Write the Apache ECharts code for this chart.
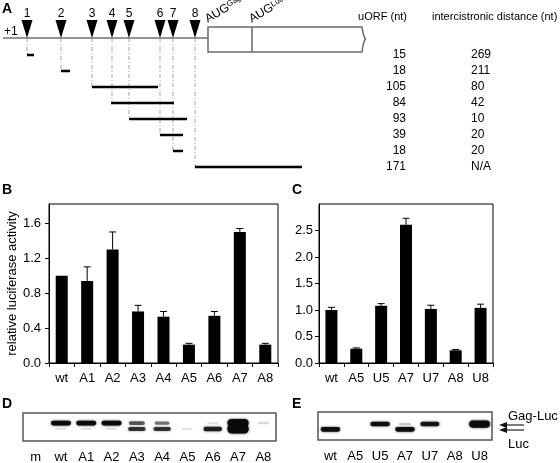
<!DOCTYPE html>
<html><head><meta charset="utf-8">
<script src="https://cdn.jsdelivr.net/npm/echarts@6/dist/echarts.min.js"></script>
<style>html,body{margin:0;padding:0;background:#fff}#c{width:560px;height:463px}</style>
</head><body><div id="c"></div>
<script>
// ---------- Panel A: leader schematic (schematic units along the leader) ----------
const augLabels = ['1','2','3','4','5','6','7','8'];
const augPos = [24, 58, 89, 109, 126, 157, 170, 192];
const orfRows = ['uORF1','uORF2','uORF3','uORF4','uORF5','uORF6','uORF7','uORF8'];
const orfStart = [24, 58, 89, 108, 126, 157, 170, 192];
const orfEnd = [31, 67, 155, 171, 184, 180, 180, 299];
const orfLength = ['15','18','105','84','93','39','18','171'];
const orfDistance = ['269','211','80','42','10','20','20','N/A'];
const gagStart = 205;
const lucStart = 249;
const schematicEnd = 359;

// ---------- Panel B ----------
const catsB = ['wt','A1','A2','A3','A4','A5','A6','A7','A8'];
const valsB = [1.00, 0.94, 1.30, 0.59, 0.53, 0.21, 0.54, 1.50, 0.21];
const errB  = [0.00, 0.16, 0.20, 0.07, 0.06, 0.015, 0.05, 0.04, 0.015];
const ticksB = [0, 0.4, 0.8, 1.2, 1.6];

// ---------- Panel C ----------
const catsC = ['wt','A5','U5','A7','U7','A8','U8'];
const valsC = [1.00, 0.27, 1.08, 2.61, 1.02, 0.24, 1.04];
const errC  = [0.05, 0.015, 0.04, 0.12, 0.07, 0.015, 0.07];
const ticksC = [0, 0.5, 1.0, 1.5, 2.0, 2.5];

// ---------- Panel D / E: blot band intensities ----------
const lanesD = ['m','wt','A1','A2','A3','A4','A5','A6','A7','A8'];
const gagLucD = [0, 1.0, 1.0, 1.0, 0.6, 0.5, 0, 0.1, 1.6, 0.15];
const lucD    = [0, 0.1, 0.1, 0.1, 0.75, 0.75, 0.1, 0.85, 1.7, 0];
const lanesE = ['wt','A5','U5','A7','U7','A8','U8'];
const gagLucE = [0, 0, 0.95, 0.2, 0.9, 0, 1.4];
const lucE    = [0.95, 0, 0, 0.95, 0, 0, 0];
const migrationD = [0.36, 0.57];
const migrationE = [0.43, 0.62];

const FONT = 'Liberation Sans, Arial, Helvetica, sans-serif';
const chart = echarts.init(document.getElementById('c'), null, {renderer: 'canvas'});

function renderLeader(params, api) {
  const cs = params.coordSys;
  const lineY = cs.y - 9;
  const x0 = api.coord([0, 0])[0];
  const xg = api.coord([gagStart, 0])[0];
  const xl = api.coord([lucStart, 0])[0];
  const xe = api.coord([schematicEnd, 0])[0];
  const top = lineY - 11, bot = lineY + 14, mid = lineY + 1;
  const path = `M${xg} ${top} L${xe} ${top} C${xe+1} ${top+6} ${xe+1} ${mid-3} ${xe+3.5} ${mid} C${xe+1} ${mid+3} ${xe+1} ${bot-6} ${xe} ${bot} L${xg} ${bot} Z`;
  const rich = {a: {fontSize: 12, fontFamily: FONT, fill: '#000'}, b: {fontSize: 8, fontFamily: FONT, verticalAlign: 'top', lineHeight: 9, fill: '#000'}};
  return {type: 'group', children: [
    {type: 'line', shape: {x1: x0, y1: lineY, x2: xg, y2: lineY}, style: {stroke: '#707070', lineWidth: 1.5}},
    {type: 'path', shape: {pathData: path}, style: {fill: '#fff', stroke: '#6a6a6a', lineWidth: 1.5}},
    {type: 'line', shape: {x1: xl, y1: top, x2: xl, y2: bot}, style: {stroke: '#6a6a6a', lineWidth: 1.5}},
    {type: 'text', x: x0 + 1, y: lineY - 6, style: {text: '+1', font: '12px ' + FONT, fill: '#000', align: 'left', verticalAlign: 'middle'}},
    {type: 'text', x: xg + 1, y: top - 2, rotation: 30 * Math.PI / 180, style: {text: '{a|AUG}{b|Gag}', rich: rich, align: 'left', verticalAlign: 'bottom'}},
    {type: 'text', x: xl + 1, y: top - 2, rotation: 30 * Math.PI / 180, style: {text: '{a|AUG}{b|Luc}', rich: rich, align: 'left', verticalAlign: 'bottom'}},
    {type: 'text', x: api.coord([404, 0])[0], y: 17, style: {text: 'uORF (nt)', font: '11px ' + FONT, fill: '#000', align: 'right', verticalAlign: 'middle'}},
    {type: 'text', x: api.coord([429, 0])[0], y: 17, style: {text: 'intercistronic distance (nt)', font: '11px ' + FONT, fill: '#000', align: 'left', verticalAlign: 'middle'}}
  ]};
}

function renderAug(params, api) {
  const cs = params.coordSys;
  const lineY = cs.y - 9;
  const p = api.coord([api.value(0), api.value(1)]);
  const x = p[0];
  return {type: 'group', children: [
    {type: 'line', z2: 1, shape: {x1: x, y1: lineY, x2: x, y2: p[1]}, style: {stroke: '#8a8a8a', lineWidth: 0.8, lineDash: [4, 2, 1, 2]}},
    {type: 'polygon', z2: 5, shape: {points: [[x - 5.5, lineY - 18], [x + 5.5, lineY - 18], [x, lineY]]}, style: {fill: '#000'}},
    {type: 'text', z2: 5, x: x, y: lineY - 24, style: {text: augLabels[params.dataIndex], font: '12px ' + FONT, fill: '#000', align: 'center', verticalAlign: 'middle'}}
  ]};
}

function renderOrf(params, api) {
  const i = api.value(1);
  const a = api.coord([api.value(0), i]);
  const b = api.coord([api.value(2), i]);
  return {type: 'group', children: [
    {type: 'line', shape: {x1: a[0], y1: a[1], x2: b[0], y2: b[1]}, style: {stroke: '#000', lineWidth: 2.5}},
    {type: 'text', x: api.coord([403, i])[0], y: a[1], style: {text: orfLength[params.dataIndex], font: '12px ' + FONT, fill: '#000', align: 'right', verticalAlign: 'middle'}},
    {type: 'text', x: api.coord([468, i])[0], y: a[1], style: {text: orfDistance[params.dataIndex], font: '12px ' + FONT, fill: '#000', align: 'left', verticalAlign: 'middle'}}
  ]};
}

function renderErr(params, api) {
  const v = api.value(1), t = api.value(2);
  if (t <= v) return null;
  const p0 = api.coord([api.value(0), v]);
  const p1 = api.coord([api.value(0), t]);
  return {type: 'group', children: [
    {type: 'line', shape: {x1: p0[0], y1: p0[1], x2: p1[0], y2: p1[1]}, style: {stroke: '#000', lineWidth: 1}},
    {type: 'line', shape: {x1: p1[0] - 3.5, y1: p1[1], x2: p1[0] + 3.5, y2: p1[1]}, style: {stroke: '#000', lineWidth: 1}}
  ]};
}

function bandRenderer(migr) {
  return function (params, api) {
    const i = api.value(0);
    const children = [];
    [1, 2].forEach(function (d, k) {
      const I = api.value(d);
      if (!I) return;
      const c = api.coord([i, migr[k]]);
      const a = Math.min(1, I);
      const extra = Math.max(0, I - 1);
      const h = 2 + 2.8 * a + 6 * extra;
      const w = 10 + 10 * a + 2 * extra;
      children.push({type: 'rect', shape: {x: c[0] - w / 2, y: c[1] - h / 2, width: w, height: h, r: h / 2},
        style: {fill: 'rgba(10,10,10,' + a + ')', shadowBlur: 2.5, shadowColor: 'rgba(0,0,0,' + (a * 0.8) + ')'}});
    });
    return {type: 'group', children: children};
  };
}

const axisTxt = {color: '#000', fontSize: 13, fontFamily: FONT};
function barCatAxis(idx, data) {
  return {gridIndex: idx, type: 'category', data: data,
    axisLine: {show: true, lineStyle: {color: '#000', width: 1}},
    axisTick: {show: true, inside: false, length: 4, alignWithLabel: false, interval: 0, lineStyle: {color: '#000'}},
    axisLabel: Object.assign({interval: 0, margin: 9}, axisTxt),
    splitLine: {show: false}};
}
function barValAxis(idx, max, ticks, margin) {
  return {gridIndex: idx, type: 'value', min: 0, max: max,
    axisLine: {show: true, lineStyle: {color: '#000', width: 1}},
    axisTick: {show: true, inside: false, length: 4, customValues: ticks, lineStyle: {color: '#000'}},
    axisLabel: Object.assign({customValues: ticks, margin: margin, formatter: function (v) { return v.toFixed(1); }}, axisTxt),
    splitLine: {show: false}};
}
function blotCatAxis(idx, data) {
  return {gridIndex: idx, type: 'category', data: data,
    axisLine: {show: false}, axisTick: {show: false}, splitLine: {show: false},
    axisLabel: Object.assign({interval: 0, margin: 10}, axisTxt)};
}

const letter = (t, x, y) => ({type: 'text', x: x, y: y, style: {text: t, font: 'bold 14px ' + FONT, fill: '#000', verticalAlign: 'middle'}});

chart.setOption({
  animation: false,
  backgroundColor: '#fff',
  textStyle: {fontFamily: FONT},
  grid: [
    {left: 3, top: 47, width: 557, height: 128, outerBoundsMode: 'none'},
    {left: 49, top: 204, width: 229, height: 159, show: true, borderColor: '#000', borderWidth: 1, backgroundColor: '#fff', outerBoundsMode: 'none'},
    {left: 319, top: 204, width: 174, height: 159, show: true, borderColor: '#000', borderWidth: 1, backgroundColor: '#fff', outerBoundsMode: 'none'},
    {left: 23, top: 413, width: 253, height: 28, show: true, borderColor: '#555', borderWidth: 1.5, backgroundColor: '#fff', outerBoundsMode: 'none'},
    {left: 318, top: 412, width: 174, height: 28, show: true, borderColor: '#555', borderWidth: 1.5, backgroundColor: '#fff', outerBoundsMode: 'none'}
  ],
  xAxis: [
    {gridIndex: 0, type: 'value', min: 0, max: 557, show: false},
    barCatAxis(1, catsB),
    barCatAxis(2, catsC),
    blotCatAxis(3, lanesD),
    blotCatAxis(4, lanesE)
  ],
  yAxis: [
    {gridIndex: 0, type: 'category', data: orfRows, inverse: true, show: false},
    Object.assign(barValAxis(1, 1.82, ticksB, 8), {name: 'relative luciferase activity', nameLocation: 'middle', nameGap: 27, nameTextStyle: {color: '#000', fontSize: 13, fontFamily: FONT}}),
    barValAxis(2, 3.0, ticksC, 6),
    {gridIndex: 3, type: 'value', min: 0, max: 1, inverse: true, show: false},
    {gridIndex: 4, type: 'value', min: 0, max: 1, inverse: true, show: false}
  ],
  series: [
    {type: 'custom', xAxisIndex: 0, yAxisIndex: 0, clip: false, z: 1, data: [[0, 0]], renderItem: renderLeader},
    {type: 'custom', xAxisIndex: 0, yAxisIndex: 0, clip: false, z: 2, data: augPos.map((p, i) => [p, i]), renderItem: renderAug},
    {type: 'custom', xAxisIndex: 0, yAxisIndex: 0, clip: false, z: 3, data: orfStart.map((s, i) => [s, i, orfEnd[i]]), renderItem: renderOrf},
    {type: 'bar', xAxisIndex: 1, yAxisIndex: 1, data: valsB, barWidth: 12, itemStyle: {color: '#000'}},
    {type: 'custom', xAxisIndex: 1, yAxisIndex: 1, z: 5, data: valsB.map((v, i) => [i, v, v + errB[i]]), renderItem: renderErr},
    {type: 'bar', xAxisIndex: 2, yAxisIndex: 2, data: valsC, barWidth: 12, itemStyle: {color: '#000'}},
    {type: 'custom', xAxisIndex: 2, yAxisIndex: 2, z: 5, data: valsC.map((v, i) => [i, v, v + errC[i]]), renderItem: renderErr},
    {type: 'custom', xAxisIndex: 3, yAxisIndex: 3, z: 5, data: lanesD.map((l, i) => [i, gagLucD[i], lucD[i]]), renderItem: bandRenderer(migrationD)},
    {type: 'custom', xAxisIndex: 4, yAxisIndex: 4, z: 5, data: lanesE.map((l, i) => [i, gagLucE[i], lucE[i]]), renderItem: bandRenderer(migrationE)}
  ],
  graphic: [
    letter('A', 2, 9),
    letter('B', 2, 190),
    letter('C', 292, 190),
    letter('D', 2, 404),
    letter('E', 292, 404),
    {type: 'line', shape: {x1: 505, y1: 425, x2: 524, y2: 425}, style: {stroke: '#222', lineWidth: 1.2}},
    {type: 'line', shape: {x1: 505, y1: 430, x2: 524, y2: 430}, style: {stroke: '#222', lineWidth: 1.2}},
    {type: 'polygon', shape: {points: [[499, 425], [507, 422], [507, 428]]}, style: {fill: '#111'}},
    {type: 'polygon', shape: {points: [[499, 430], [507, 427], [507, 433]]}, style: {fill: '#111'}},
    {type: 'text', x: 508, y: 416, style: {text: 'Gag-Luc', font: '13px ' + FONT, fill: '#000', verticalAlign: 'middle'}},
    {type: 'text', x: 508, y: 444, style: {text: 'Luc', font: '13px ' + FONT, fill: '#000', verticalAlign: 'middle'}}
  ]
});
</script></body></html>
